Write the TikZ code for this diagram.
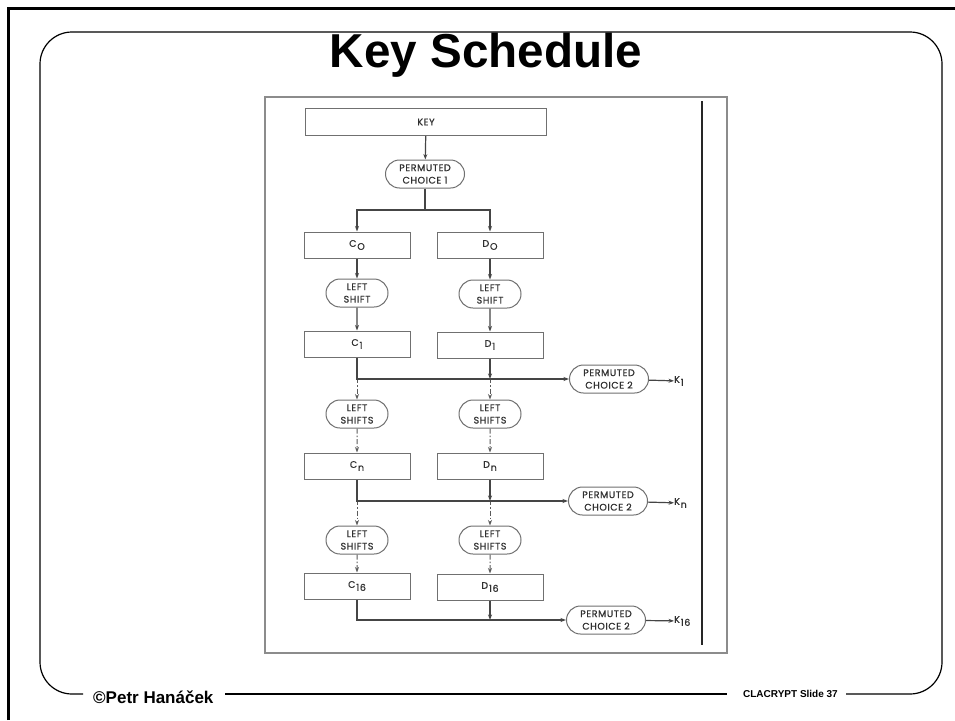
\documentclass[tikz,border=0pt]{standalone}
\usepackage{fontspec}
\setmainfont{Liberation Sans}
\newfontfamily\figfont[LetterSpace=6,FakeBold=0.6]{Poppins}
\usetikzlibrary{arrows.meta,shapes.misc}
\definecolor{figline}{HTML}{454545}
\definecolor{figdash}{HTML}{5A5A5A}
\definecolor{figbox}{HTML}{707070}
\definecolor{figtext}{HTML}{303030}
\definecolor{figframe}{HTML}{8C8C8C}
% letter with a lowered index, as set in the flow chart
\newcommand\figsub[2]{#1\kern0.8pt\raisebox{-3pt}{#2}}
\tikzset{
  figtxt/.style={font=\figfont\fontsize{9.5}{12.5}\selectfont, text=figtext, align=center, inner sep=0pt},
  regbox/.style={figtxt, draw=figbox, line width=1pt, minimum width=106pt, minimum height=26pt},
  pill/.style={figtxt, rounded rectangle, draw=figbox, line width=1pt, minimum width=62pt, minimum height=28pt},
  pcbox/.style={pill, minimum width=79pt},
  flow/.style={draw=figline, line width=1.2pt},
  arr/.style={flow, -{Stealth[length=5.5pt,width=4pt]}},
  darr/.style={arr, draw=figdash, line width=1pt, dash pattern=on 5pt off 2pt on 1.5pt off 2pt},
}
\begin{document}
\begin{tikzpicture}[x=1pt,y=-1pt]
\useasboundingbox (0,0) rectangle (955,720);
\fill[white] (0,0) rectangle (955,720);

% slide frame
\draw[line width=3pt] (8,720) -- (8,8) -- (955,8);
\draw[line width=1.2pt, rounded corners=32pt] (83,694) -- (40,694) -- (40,32) -- (942,32) -- (942,694) -- (846,694);
\draw[line width=1.2pt] (225,694) -- (727,694);

% title and footer
\node[font=\bfseries\fontsize{47.6}{50}\selectfont, anchor=base, inner sep=0pt] (title) at (486,67) {Key Schedule};
\node[font=\bfseries\fontsize{17}{18}\selectfont, anchor=base west, inner sep=0pt] (author) at (93,703) {©Petr Hanáček};
\node[font=\bfseries\fontsize{10}{11}\selectfont, anchor=base east, inner sep=0pt] (slideno) at (838,697) {CLACRYPT Slide 37};

% figure frame
\draw[figframe, line width=1.4pt] (265,97) rectangle (727,653);
\draw[black!85, line width=2.6pt] (702,101) -- (702,645);

% flow chart nodes
\node[regbox, minimum width=241pt, minimum height=27pt] (key) at (426,122) {KEY};
\node[pcbox] (pc1) at (425,174) {PERMUTED\\CHOICE 1};
\coordinate (split) at (425,210);

\node[regbox] (c0) at (357,245) {\figsub{C}{O}};
\node[regbox] (d0) at (490,245) {\figsub{D}{O}};
\node[pill] (ls1c) at (357,293) {LEFT\\SHIFT};
\node[pill] (ls1d) at (490,294) {LEFT\\SHIFT};
\node[regbox] (c1) at (357,344) {\figsub{C}{1}};
\node[regbox] (d1) at (490,345) {\figsub{D}{1}};
\node[pcbox] (pc2a) at (609,379) {PERMUTED\\CHOICE 2};
\node[figtxt, anchor=west] (k1) at (674,381) {\figsub{K}{1}};

\node[pill] (ls2c) at (357,414) {LEFT\\SHIFTS};
\node[pill] (ls2d) at (490,414) {LEFT\\SHIFTS};
\node[regbox] (cn) at (357,466) {\figsub{C}{n}};
\node[regbox] (dn) at (490,466) {\figsub{D}{n}};
\node[pcbox] (pc2b) at (608,501) {PERMUTED\\CHOICE 2};
\node[figtxt, anchor=west] (kn) at (674,503) {\figsub{K}{n}};

\node[pill] (ls3c) at (357,540) {LEFT\\SHIFTS};
\node[pill] (ls3d) at (490,540) {LEFT\\SHIFTS};
\node[regbox] (c16) at (357,586) {\figsub{C}{16}};
\node[regbox] (d16) at (490,587) {\figsub{D}{16}};
\node[pcbox] (pc2c) at (606,620) {PERMUTED\\CHOICE 2};
\node[figtxt, anchor=west] (k16) at (674,621) {\figsub{K}{16}};

% connectors
\draw[arr] (key) -- (pc1);
\draw[flow] (pc1) -- (split);
\draw[arr] (split) -| (c0);
\draw[arr] (split) -| (d0);
\draw[arr] (c0) -- (ls1c);
\draw[arr] (d0) -- (ls1d);
\draw[arr] (ls1c) -- (c1);
\draw[arr] (ls1d) -- (d1);

\draw[darr] ([yshift=1pt]c1 |- pc2a) -- (ls2c);
\draw[darr] ([yshift=1pt]d1 |- pc2a) -- (ls2d);
\draw[arr] (c1) |- (pc2a);
\draw[arr] (d1) -- (d1 |- pc2a);
\draw[darr] (ls2c) -- (cn);
\draw[darr] (ls2d) -- (dn);

\draw[darr] ([yshift=1pt]cn |- pc2b) -- (ls3c);
\draw[darr] ([yshift=1pt]dn |- pc2b) -- (ls3d);
\draw[arr] (cn) |- (pc2b);
\draw[arr] (dn) -- (dn |- pc2b);
\draw[darr] (ls3c) -- (c16);
\draw[darr] (ls3d) -- (d16);

\draw[arr] (c16) |- (pc2c);
\draw[arr] (d16) -- (d16 |- pc2c);

\draw[arr] (pc2a) -- (k1);
\draw[arr] (pc2b) -- (kn);
\draw[arr] (pc2c) -- (k16);
\end{tikzpicture}
\end{document}
